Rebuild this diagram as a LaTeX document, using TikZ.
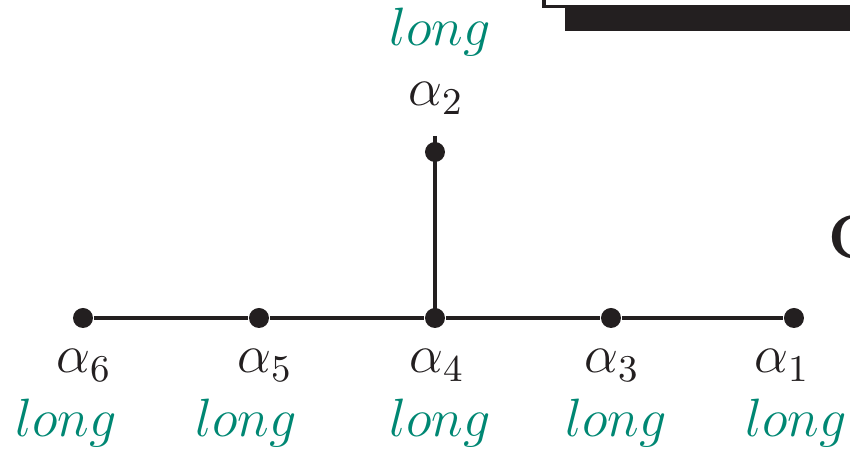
\documentclass[tikz,border=0pt]{standalone}
\usepackage{fix-cm}
\definecolor{longgreen}{RGB}{0,135,115}
\definecolor{barblack}{RGB}{35,31,32}
\begin{document}
\begin{tikzpicture}[x=0.25pt,y=-0.25pt,
  dot/.style={circle,fill=barblack,inner sep=0pt,minimum size=5pt},
  edge/.style={draw=barblack,line width=1.1pt},
  rootlbl/.style={anchor=base,inner sep=0pt,text=barblack,font=\fontsize{13.5}{16}\selectfont},
  lenlbl/.style={anchor=base,inner sep=0pt,text=longgreen,font=\fontsize{13.5}{16}\selectfont}]
\useasboundingbox (0,0) rectangle (850,449);
\begin{scope}
\clip (0,0) rectangle (850,449);
% cropped fragments at the top right
\draw[barblack,line width=0.8pt] (544,-20) -- (544,6.5) -- (900,6.5);
\fill[barblack] (565,8) rectangle (860,31);
\node[anchor=base west,inner sep=0pt,text=barblack,font=\fontsize{15.5}{18}\bfseries\selectfont] (cfrag) at (828,259) {C};
% root nodes
\node[dot] (a6) at (83,318) {};
\node[dot] (a5) at (259,318) {};
\node[dot] (a4) at (435,318) {};
\node[dot] (a3) at (611,318) {};
\node[dot] (a1) at (794,318) {};
\node[dot] (a2) at (435,152) {};
\draw[edge] (a6) -- (a5) -- (a4) -- (a3) -- (a1);
\draw[edge] ([yshift=4pt]a2.center) -- (a4.center);
% labels
\node[rootlbl] (l6) at (84,373) {$\alpha_6$};
\node[rootlbl] (l5) at (265,373) {$\alpha_5$};
\node[rootlbl] (l4) at (437,373) {$\alpha_4$};
\node[rootlbl] (l3) at (612,373) {$\alpha_3$};
\node[rootlbl] (l1) at (782,373) {$\alpha_1$};
\node[rootlbl] (l2) at (436,106) {$\alpha_2$};
\node[lenlbl] (g6) at (66,437) {$long$};
\node[lenlbl] (g5) at (246,437) {$long$};
\node[lenlbl] (g4) at (440,437) {$long$};
\node[lenlbl] (g3) at (616,437) {$long$};
\node[lenlbl] (g1) at (796,437) {$long$};
\node[lenlbl] (g2) at (440,46) {$long$};
\end{scope}
\end{tikzpicture}
\end{document}
